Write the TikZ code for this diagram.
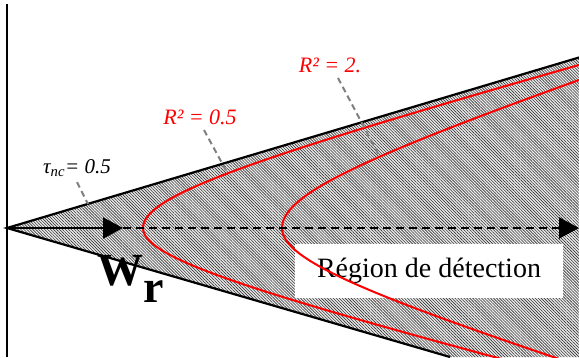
\documentclass[tikz,border=0pt]{standalone}
\usepackage{fontspec}
\setmainfont{Liberation Serif}[ItalicFont={Liberation Serif Italic},
    BoldFont={Liberation Serif Bold}]
\usetikzlibrary{arrows.meta, patterns.meta}

\begin{document}
\begin{tikzpicture}[x={(1pt,0pt)}, y={(0pt,-1pt)},
    bound/.style={line width=2.2pt},
    curve/.style={red, line width=2pt},
    leader/.style={gray, line width=2pt, dash pattern=on 6pt off 4pt},
    axisdash/.style={line width=2.2pt, dash pattern=on 8pt off 5pt},
    redlbl/.style={red, font=\itshape\fontsize{22}{24}\selectfont},
    tip/.style={-{Triangle[length=20pt,width=21pt]}}]
    % pixel coordinates, y pointing down; apex of the cone on the left wall
    \def\ax{7}  \def\ay{228}
    \def\cA{-57} \def\aA{200} \def\kA{0.27}   % R^2 = 0.5
    \def\cB{92}  \def\aB{190} \def\kB{0.33}   % R^2 = 2.
    \def\low{0.93}                            % lower branches a bit flatter
    \useasboundingbox (0,0) rectangle (579,357);

    \coordinate (A) at (\ax,\ay);
    \coordinate (U) at (579,57.5);
    \coordinate (L) at (450,357);

    % Hatched cone
    \fill[gray!15] (A) -- (U) -- (579,357) -- (L) -- cycle;
    \fill[pattern={Lines[angle=-45,distance=2.1pt,line width=0.6pt]}, pattern color=black!80]
        (A) -- (U) -- (579,357) -- (L) -- cycle;

    % Wall and cone border
    \draw[line width=2.6pt] (\ax,4) -- (\ax,357);
    \draw[bound] (U) -- (A) -- (L);

    % Detection region label
    \node[fill=white, minimum width=268pt, minimum height=54pt, inner sep=0pt,
        font=\fontsize{28}{30}\selectfont] (det) at (429,271) {Région de détection};

    % Curves of constant R^2
    \begin{scope}
        \clip (0,0) rectangle (579,357);
        \draw[curve] plot[domain=0:1.9, samples=60, variable=\t]
            ({\cA+\aA*cosh(\t)}, {\ay-\kA*\aA*sinh(\t)});
        \draw[curve] plot[domain=0:1.9, samples=60, variable=\t]
            ({\cA+\aA*cosh(\t)}, {\ay+\low*\kA*\aA*sinh(\t)});
        \draw[curve] plot[domain=0:1.7, samples=60, variable=\t]
            ({\cB+\aB*cosh(\t)}, {\ay-\kB*\aB*sinh(\t)});
        \draw[curve] plot[domain=0:1.7, samples=60, variable=\t]
            ({\cB+\aB*cosh(\t)}, {\ay+\low*\kB*\aB*sinh(\t)});
    \end{scope}

    % Axis W_r
    \coordinate (M) at (123,\ay);
    \coordinate (E) at (579,\ay);
    \draw[bound, tip] (A) -- (M);
    \draw[axisdash, tip] (M) -- (E);
    \node[anchor=base west, inner sep=0pt, font=\bfseries\fontsize{46}{46}\selectfont]
        (wr) at (97,285) {W\raisebox{-17pt}{r}};

    % Labels and leaders
    \node[font=\itshape\fontsize{21}{23}\selectfont] (tau) at (77,168) {τ\textsubscript{nc}= 0.5};
    \node[redlbl] (r05) at (200,117) {R² = 0.5};
    \node[redlbl] (r2) at (330,65) {R² = 2.};
    \coordinate (t0) at (88,204);
    \coordinate (p05) at ({\cA+\aA*cosh(0.89)},{\ay-\kA*\aA*sinh(0.89)});
    \coordinate (p2) at ({\cB+\aB*cosh(0.975)},{\ay-\kB*\aB*sinh(0.975)});
    \draw[leader] ([yshift=-2pt]tau.south) -- (t0);
    \draw[leader] ([xshift=4pt,yshift=-2pt]r05.south) -- (p05);
    \draw[leader] ([xshift=8pt,yshift=-2pt]r2.south) -- (p2);
\end{tikzpicture}
\end{document}
